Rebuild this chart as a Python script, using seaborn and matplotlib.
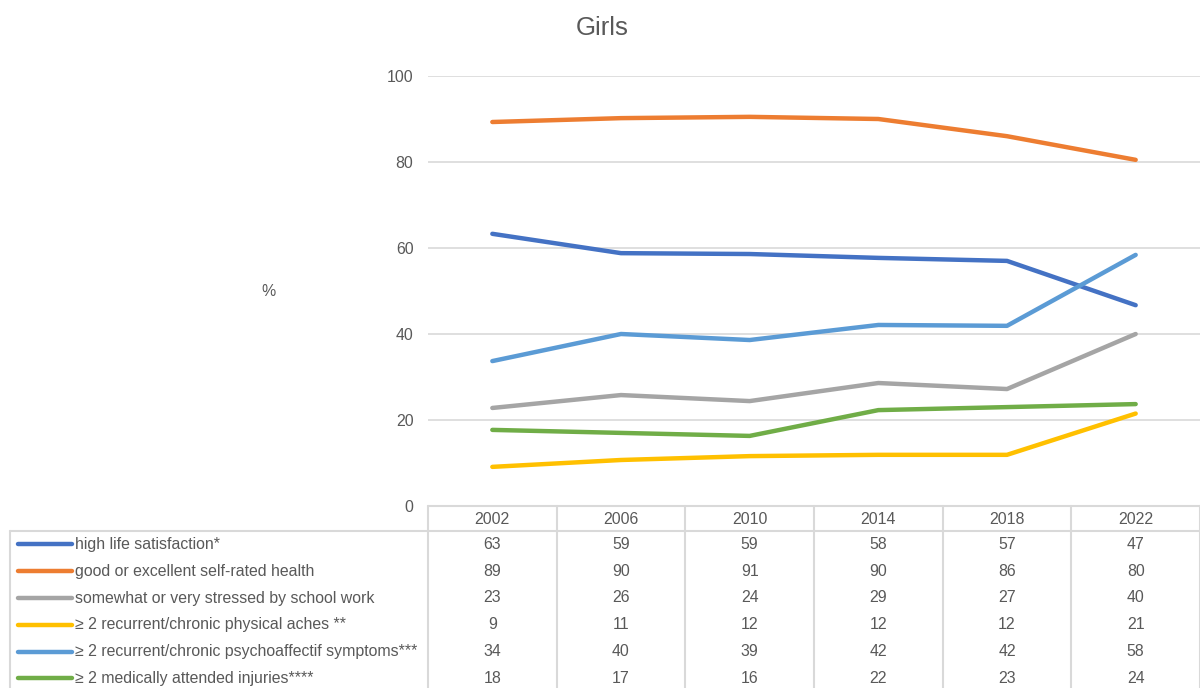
import pandas as pd
import matplotlib
matplotlib.use("Agg")
import matplotlib.pyplot as plt
import matplotlib.transforms as mtransforms
import seaborn as sns

# data
years = ["2002", "2006", "2010", "2014", "2018", "2022"]
series_names = [
    "high life satisfaction*",
    "good or excellent self-rated health",
    "somewhat or very stressed by school work",
    "\u2265 2 recurrent/chronic physical aches **",
    "\u2265 2 recurrent/chronic psychoaffectif symptoms***",
    "\u2265 2 medically attended injuries****",
]
# plotted values
life_satisfaction = [63.3, 58.8, 58.6, 57.7, 57.0, 46.7]
self_rated_health = [89.3, 90.2, 90.5, 90.0, 86.0, 80.5]
school_stress = [22.8, 25.8, 24.4, 28.6, 27.2, 40.0]
physical_aches = [9.1, 10.7, 11.6, 11.9, 11.9, 21.5]
psycho_symptoms = [33.7, 40.0, 38.6, 42.1, 41.9, 58.4]
injuries = [17.7, 17.0, 16.3, 22.3, 23.0, 23.7]
# values shown in the data table
table_values = [
    [63, 59, 59, 58, 57, 47],
    [89, 90, 91, 90, 86, 80],
    [23, 26, 24, 29, 27, 40],
    [9, 11, 12, 12, 12, 21],
    [34, 40, 39, 42, 42, 58],
    [18, 17, 16, 22, 23, 24],
]
colors = ["#4472C4", "#ED7D31", "#A5A5A5", "#FFC000", "#5B9BD5", "#70AD47"]

all_series = [life_satisfaction, self_rated_health, school_stress,
              physical_aches, psycho_symptoms, injuries]
rows = []
for name, vals in zip(series_names, all_series):
    for i, v in enumerate(vals):
        rows.append({"pos": i, "year": years[i], "value": v, "series": name})
df = pd.DataFrame(rows)

sns.set_theme(style="white")
plt.rcParams["font.family"] = ["Liberation Sans", "DejaVu Sans"]
text_color = "#595959"
grid_color = "#D9D9D9"
fs = 11.4

W, H = 1200, 688
fig = plt.figure(figsize=(W / 100, H / 100), dpi=100)

# main chart
ax = fig.add_axes([428 / W, (H - 506) / H, 772 / W, 430 / H])
sns.lineplot(data=df, x="pos", y="value", hue="series", palette=colors,
             hue_order=series_names, linewidth=3.2, legend=False, ax=ax,
             solid_capstyle="round")
ax.set_xlim(-0.5, 5.5)
ax.set_ylim(0, 100)
ax.set_yticks(range(0, 101, 20))
ax.set_xticks([])
ax.set_xlabel("")
ax.set_ylabel("")
ax.tick_params(axis="y", length=0, pad=10.5, labelsize=fs, labelcolor=text_color)
for s in ax.spines.values():
    s.set_visible(False)
ax.grid(axis="y", color=grid_color, linewidth=1.2)
ax.set_axisbelow(True)

fig.text(268 / W, 1 - 291 / H, "%", ha="center", va="center",
         fontsize=fs, color=text_color)
fig.text(602 / W, 1 - 28 / H, "Girls", ha="center", va="center",
         fontsize=18.5, color=text_color)

# data table
ax_t = fig.add_axes([428 / W, 0, 772 / W, (H - 506) / H])
ax_t.set_xlim(-0.5, 5.5)
ax_t.set_ylim(H - 506, 0)
ax_t.axis("off")
fx = mtransforms.blended_transform_factory(fig.transFigure, ax_t.transData)

row_h = 26.8
header_bottom = 25
kw = dict(color=grid_color, linewidth=1.5, clip_on=False)
# header box
ax_t.plot([-0.5, 5.5], [0, 0], **kw)
ax_t.plot([10 / W, 1.0], [header_bottom, header_bottom], transform=fx, **kw)
for i in range(7):
    ax_t.plot([i - 0.5, i - 0.5], [0, H - 506], **kw)
ax_t.plot([10 / W, 10 / W], [header_bottom, H - 506], transform=fx, **kw)

for i, y in enumerate(years):
    ax_t.text(i, header_bottom / 2 + 0.5, y, ha="center", va="center",
              fontsize=fs, color=text_color)

for r, (name, vals) in enumerate(zip(series_names, table_values)):
    yc = header_bottom + row_h * (r + 0.5)
    ax_t.plot([18 / W, 72 / W], [yc, yc], transform=fx, color=colors[r],
              linewidth=3.2, solid_capstyle="round", clip_on=False)
    ax_t.text(75 / W, yc, name, transform=fx, ha="left", va="center",
              fontsize=fs, color=text_color)
    for i, v in enumerate(vals):
        ax_t.text(i, yc, str(v), ha="center", va="center",
                  fontsize=fs, color=text_color)

fig.savefig("out.png", dpi=100)
